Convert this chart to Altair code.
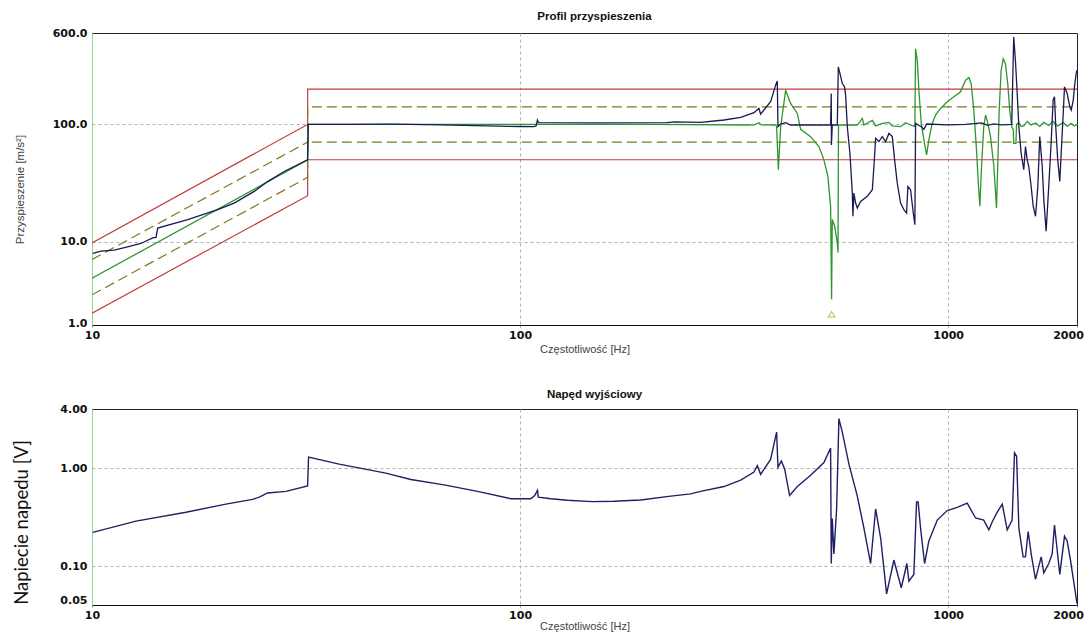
import altair as alt
import pandas as pd

# ---------------- data ----------------
FREQ_TICKS = [10, 100, 1000, 2000]
ACC_TICKS = [1.96, 10, 100, 600]
DRIVE_TICKS = [0.04, 0.1, 1, 4]

# measured acceleration (navy)  (Hz, m/s^2)
meas_pts = [
    (10.04, 7.97), (10.5, 8.34), (11.27, 8.5), (12.11, 9.07), (13.01, 9.69), (13.86, 10.8),
    (14.11, 10.9), (14.24, 13.1), (16.73, 15.5), (19.66, 18.8), (21.49, 21.4), (23.93, 26.9),
    (25.72, 32.6), (28.12, 39.7), (31.89, 49.9), (32.0, 100), (40, 100), (50, 100.5), (65, 99),
    (84, 97), (100, 96), (107.6, 95.6), (109.0, 97), (109.8, 108.8), (110.5, 103.4), (150, 103),
    (220, 103.4), (230, 105), (264, 104), (299.5, 109), (327.6, 114.6), (351.9, 125.7),
    (361.4, 136.7), (364.7, 122.5), (384.8, 155.8), (395.4, 215.8), (398.9, 234.6), (400.4, 95.6),
    (406.2, 100.8), (417.3, 103.4), (428.5, 98.8), (531.4, 98.8), (533.3, 183.1), (533.8, 66.9),
    (536.2, 98.8), (550.9, 98.8), (553.9, 308.3), (557.7, 279.7), (565.9, 222.6), (573.0, 208.7),
    (576.1, 177.5), (581.4, 95.6), (589.6, 56.8), (597.3, 26.0), (599.2, 16.5), (602.4, 26.0),
    (607.9, 21.4), (613.5, 19.4), (624.5, 22.1), (647.4, 24.4), (665.1, 27.8), (670.8, 43.8),
    (677.0, 76.1), (689.1, 71.4), (701.8, 78.7), (714.4, 71.4), (727.2, 83.8), (740.6, 78.7),
    (749.8, 49.9), (760.6, 31.6), (774.3, 21.4), (790.0, 18.5), (799.7, 17.6), (805.3, 29.6),
    (817.0, 27.8), (829.0, 17.6), (836.2, 14.0), (839.3, 102), (865.4, 95.6), (877.7, 90.7),
    (890.5, 100.8), (1000, 99), (1098, 100), (1197, 103), (1238, 98), (1279, 101), (1330, 99),
    (1408, 100), (1423, 553.5), (1436, 351.4), (1450, 183.1), (1463, 95.6), (1481, 56.8),
    (1502, 41.1), (1516, 64.7), (1530, 49.9), (1543, 43.8), (1563, 29.6), (1580, 20.1),
    (1600, 16.5), (1620, 29.6), (1637, 78.7), (1659, 43.8), (1673, 22.9), (1694, 12.3),
    (1718, 29.6), (1740, 69.0), (1759, 161.0), (1772, 171.7), (1784, 95.6), (1803, 49.9),
    (1823, 32.7), (1837, 56.8), (1857, 124.0), (1870, 208.7), (1897, 183.1), (1924, 141.3),
    (1939, 132.4), (1960, 161.0), (1973, 208.7), (1991, 270.5), (2000, 290),
]

# control acceleration (green)
ctrl_pts = [
    (10.0, 4.9), (31.9, 50), (32.0, 100), (100, 100), (200, 100), (339.6, 98.8), (352, 99),
    (361.4, 103.4), (366, 99), (395.4, 98.8), (397.5, 95.6), (401.2, 41.1), (406.2, 95.6),
    (417.3, 195.6), (428.5, 150.7), (444.3, 124.0), (452.3, 90.7), (477.2, 78.7), (499.0, 64.7),
    (512.6, 49.9), (523.7, 36.1), (531.4, 20.1), (534.2, 3.25), (536.2, 15.5), (543.0, 13.6),
    (550.9, 9.8), (553.0, 8.1), (554.5, 98.8), (613.5, 98.8), (630.2, 112.4), (635.7, 98.8),
    (665.1, 108), (677.0, 97), (701.8, 102), (727.2, 104), (740.6, 97), (774.3, 95.6),
    (795.3, 103.4), (817.0, 98.8), (836.2, 96), (839.3, 440.6), (847.1, 351.4), (854.3, 195.6),
    (865.4, 102), (877.7, 73.8), (890.5, 55.0), (901.5, 73.8), (918.1, 102), (934.6, 120.2),
    (960.1, 136.7), (995.1, 155.8), (1031, 171.7), (1069, 189.3), (1098, 237.8), (1118, 250.2),
    (1132, 222.6), (1148, 132.4), (1165, 60.7), (1175, 33.8), (1186, 20.1), (1197, 43.8),
    (1211, 95.6), (1223, 120.2), (1238, 102), (1256, 78.7), (1279, 43.8), (1297, 19.4),
    (1307, 49.9), (1316, 132.4), (1330, 289.1), (1345, 362.6), (1361, 328.8), (1378, 222.6),
    (1393, 132.4), (1408, 95.6), (1420, 90), (1423, 69), (1440, 69), (1445, 100), (1463, 104),
    (1482, 96), (1502, 97), (1530, 106), (1563, 99), (1600, 103), (1637, 96), (1673, 104),
    (1718, 98), (1759, 106), (1803, 97), (1857, 104), (1897, 96), (1939, 102), (1973, 97),
    (2000, 100),
]

# tolerance bands
lim_f = [10, 31.9, 31.9, 2000]
abort_hi = [9.8, 100, 200, 200]
abort_lo = [2.47, 24.7, 50, 50]
alarm_hi = [7.07, 70.7, 141, 141]
alarm_lo = [3.54, 35.4, 70.7, 70.7]

marker_pts = [(534.2, 2.42)]

# drive voltage (V)
drive_pts = [
    (10.04, 0.220), (12.67, 0.287), (16.58, 0.354), (20.55, 0.428), (23.73, 0.479), (24.59, 0.505),
    (25.72, 0.556), (28.38, 0.578), (31.89, 0.657), (32.06, 1.294), (37.79, 1.094), (48.58, 0.887),
    (55.56, 0.763), (66.45, 0.672), (79.55, 0.578), (95.12, 0.486), (105.9, 0.486), (108.2, 0.524),
    (109.8, 0.591), (110.3, 0.505), (117.9, 0.486), (129.0, 0.469), (147.6, 0.454), (165.8, 0.458),
    (191.3, 0.472), (224.8, 0.516), (250.3, 0.545), (264.2, 0.578), (299.5, 0.647), (327.6, 0.752),
    (351.9, 0.908), (358.3, 1.056), (364.7, 0.861), (384.8, 1.225), (397.5, 2.326), (400.4, 1.016),
    (407.7, 1.18), (415.0, 0.978), (426.2, 0.524), (444.3, 0.647), (477.2, 0.842), (512.6, 1.137),
    (531.4, 1.596), (533.3, 0.106), (536.2, 0.305), (540.9, 0.133), (548.9, 0.382), (555.7, 3.19),
    (565.9, 2.326), (586.5, 1.094), (613.5, 0.516), (635.7, 0.243), (659.0, 0.106), (677.0, 0.382),
    (695.4, 0.194), (718.2, 0.052), (746.9, 0.115), (777.1, 0.060), (801.0, 0.106), (809.6, 0.070),
    (831.6, 0.082), (843.8, 0.451), (851.0, 0.451), (862.2, 0.243), (881.0, 0.106), (901.5, 0.180),
    (943.3, 0.294), (995.1, 0.368), (1050, 0.396), (1108, 0.438), (1159, 0.309), (1211, 0.294),
    (1245, 0.234), (1268, 0.283), (1302, 0.354), (1338, 0.428), (1374, 0.234), (1411, 0.294),
    (1429, 1.426), (1445, 1.32), (1463, 0.243), (1497, 0.124), (1516, 0.124), (1538, 0.225),
    (1563, 0.133), (1600, 0.073), (1628, 0.099), (1650, 0.124), (1673, 0.085), (1718, 0.106),
    (1750, 0.133), (1772, 0.262), (1798, 0.144), (1823, 0.082), (1870, 0.201), (1897, 0.180),
    (1931, 0.115), (2000, 0.0415),
]


def frame(pairs):
    return pd.DataFrame({"f": [p[0] for p in pairs], "v": [p[1] for p in pairs],
                         "i": list(range(len(pairs)))})


def frame_xy(fs, vs):
    return frame(list(zip(fs, vs)))


# ---------------- styling ----------------
LABEL_FONT = "DejaVu Sans"
TEXT_FONT = "Liberation Sans"
LABEL_SIZE = 11
GRID = {"gridDash": [3, 3], "gridColor": "#b0b0b0", "gridWidth": 1}
PLOT_W = 985
TOP_H = 292
BOT_H = 196

x_scale = alt.Scale(type="log", domain=[10, 2000], nice=False)


def x_axis(title_pad):
    return alt.Axis(values=FREQ_TICKS, format="d", title="Częstotliwość [Hz]",
                    labelFont=LABEL_FONT, labelFontWeight="bold", labelFontSize=LABEL_SIZE,
                    labelColor="#111", labelFlush=False, labelPadding=2, tickSize=2,
                    labelOffset={"condition": {"test": "datum.value >= 2000", "value": -9},
                                 "value": 0},
                    tickColor="#888", domainColor="#111", titleFont=TEXT_FONT,
                    titleFontSize=11, titleFontWeight="normal", titleColor="#444",
                    titlePadding=title_pad,
                    gridOpacity={"condition": {"test": "datum.value > 10 && datum.value < 2000",
                                               "value": 1}, "value": 0},
                    **GRID)


acc_scale = alt.Scale(type="log", domain=[1.96, 600], nice=False)
acc_axis = alt.Axis(values=ACC_TICKS, title="Przyspieszenie [m/s²]",
                    labelExpr="datum.value < 5 ? '1.0' : format(datum.value, '.1f')",
                    labelFont=LABEL_FONT, labelFontWeight="bold", labelFontSize=LABEL_SIZE,
                    labelColor="#111", labelPadding=5, ticks=False, domainColor="#90d890",
                    labelOffset={"condition": {"test": "datum.value < 5", "value": -2}, "value": 0},
                    titleFont=TEXT_FONT, titleFontSize=11.5, titleFontWeight="normal",
                    titleColor="#444", titleX=-72, titleY=TOP_H / 2 + 10, titleAngle=-90,
                    titleBaseline="middle", titleAlign="center",
                    gridOpacity={"condition": {"test": "datum.value > 5 && datum.value < 500",
                                               "value": 1}, "value": 0},
                    **GRID)

drv_scale = alt.Scale(type="log", domain=[0.04, 4], nice=False)
drv_axis = alt.Axis(values=DRIVE_TICKS, title="Napiecie napedu [V]",
                    labelExpr="datum.value < 0.05 ? '0.05' : format(datum.value, '.2f')",
                    labelFont=LABEL_FONT, labelFontWeight="bold", labelFontSize=LABEL_SIZE,
                    labelColor="#111", labelPadding=5, ticks=False, domainColor="#90d890",
                    labelOffset={"condition": {"test": "datum.value < 0.05", "value": -5},
                                 "value": 0},
                    titleFont="Lato", titleFontSize=18.5, titleFontWeight="normal",
                    titleColor="#111", titleX=-71, titleY=BOT_H / 2 + 15, titleAngle=-90,
                    titleBaseline="middle", titleAlign="center",
                    gridOpacity={"condition": {"test": "datum.value > 0.05 && datum.value < 3",
                                               "value": 1}, "value": 0},
                    **GRID)

XT = alt.X("f:Q", scale=x_scale, axis=x_axis(3))
YT = alt.Y("v:Q", scale=acc_scale, axis=acc_axis)


def top_line(df, color, width=1.2, dash=None):
    kw = dict(color=color, strokeWidth=width, clip=True)
    if dash:
        kw["strokeDash"] = dash
    return alt.Chart(df).mark_line(**kw).encode(x=XT, y=YT, order="i:Q")


RED = "#c43c3c"
OLIVE = "#7f7a1e"
top = alt.layer(
    top_line(frame_xy(lim_f, abort_hi), RED),
    top_line(frame_xy(lim_f, abort_lo), RED),
    top_line(frame_xy(lim_f, alarm_hi), OLIVE, dash=[10, 5]),
    top_line(frame_xy(lim_f, alarm_lo), OLIVE, dash=[10, 5]),
    top_line(frame(ctrl_pts), "#2f962f", 1.3),
    top_line(frame(meas_pts), "#1a1a52", 1.3),
    alt.Chart(frame(marker_pts)).mark_point(shape="triangle-up", filled=False, color="#c8b030",
                                            size=45, strokeWidth=1.2).encode(x=XT, y=YT),
).properties(
    width=PLOT_W, height=TOP_H,
    title=alt.TitleParams("Profil przyspieszenia", font=TEXT_FONT, fontSize=11.5,
                          fontWeight="bold", color="#111", anchor="middle", offset=5, dx=10),
)

bottom = alt.Chart(frame(drive_pts)).mark_line(color="#1f1f66", strokeWidth=1.4, clip=True).encode(
    x=alt.X("f:Q", scale=x_scale, axis=x_axis(0)),
    y=alt.Y("v:Q", scale=drv_scale, axis=drv_axis),
    order="i:Q",
).properties(
    width=PLOT_W, height=BOT_H,
    title=alt.TitleParams("Napęd wyjściowy", font=TEXT_FONT, fontSize=11.5,
                          fontWeight="bold", color="#111", anchor="middle", offset=3, dx=10),
)

chart = alt.vconcat(top, bottom, spacing=33).properties(
    padding={"left": 3, "top": 2, "right": 0, "bottom": 0},
    background="white",
).configure_view(stroke="#222", strokeWidth=1)

chart.save("out.html", embed_options={"renderer": "svg", "actions": False})
